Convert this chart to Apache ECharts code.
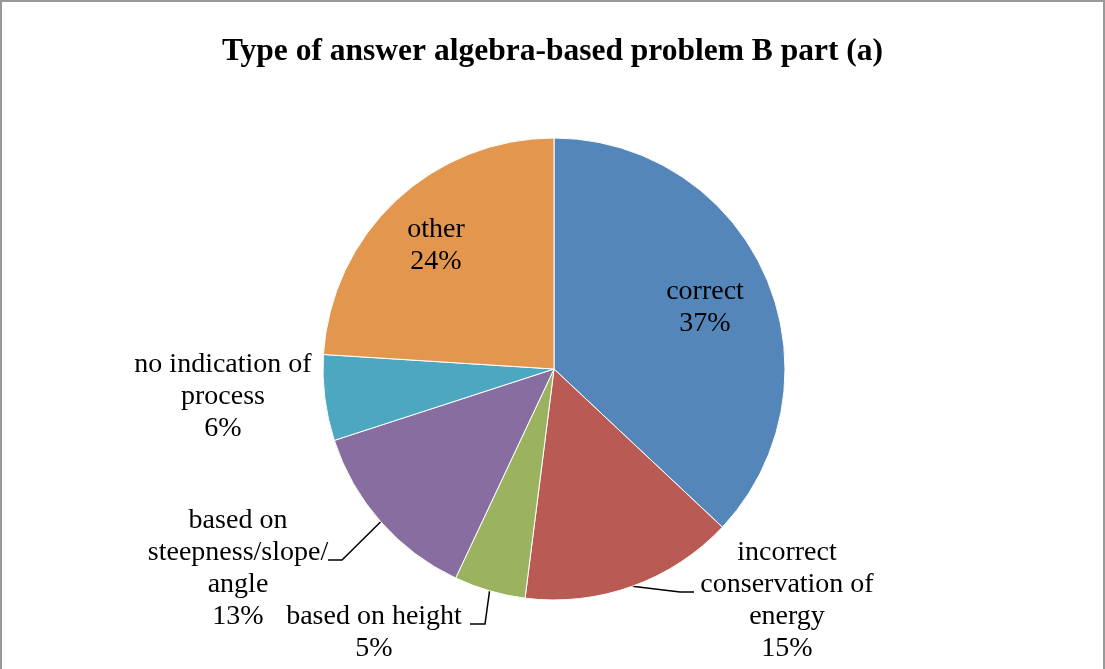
<!DOCTYPE html>
<html>
<head>
<meta charset="utf-8">
<script src="https://cdn.jsdelivr.net/npm/echarts@6/dist/echarts.min.js"></script>
<style>
html,body{margin:0;padding:0;background:#fff;}
#c{position:absolute;left:0;top:0;width:1105px;height:669px;box-sizing:border-box;border-left:2px solid #999;border-top:2px solid #999;border-right:2px solid #999;}
</style>
</head>
<body>
<div id="c"></div>
<script>
const titleText = 'Type of answer algebra-based problem B part (a)';
const categories = ['correct', 'incorrect\nconservation of\nenergy', 'based on height', 'based on\nsteepness/slope/\nangle', 'no indication of\nprocess', 'other'];
const values = [37, 15, 5, 13, 6, 24];
const colors = ['#5586B9', '#B95B54', '#9BB35E', '#876DA0', '#4EA7C0', '#E3974E'];
const insideLabel = [true, false, false, false, false, true];
const showLeader = [false, true, true, true, false, false];
// label block centres (px)
const labelPos = [[703, 306], [785, 599], [372, 631], [236, 567], [221, 395], [434, 244]];
// leader-line bend and end points (px)
const leaderPts = [null, [[678, 590], [692, 590]], [[483, 622], [468, 622]], [[340, 558], [326, 558]], null, null];

const chart = echarts.init(document.getElementById('c'), null, {renderer: 'canvas'});
const data = categories.map((name, i) => ({
  name: name,
  value: values[i],
  itemStyle: {color: colors[i]},
  label: {position: insideLabel[i] ? 'inside' : 'outside'},
  labelLine: {show: showLeader[i]}
}));

chart.setOption({
  animation: false,
  title: {
    text: titleText,
    left: 'center',
    top: 29,
    textStyle: {fontFamily: 'Liberation Serif', fontWeight: 'bold', fontSize: 31.5, color: '#000'}
  },
  series: [{
    type: 'pie',
    center: [552, 367],
    radius: 231,
    startAngle: 90,
    clockwise: true,
    data: data,
    itemStyle: {borderColor: '#fff', borderWidth: 1},
    label: {
      formatter: p => p.name + '\n' + p.percent.toFixed(0) + '%',
      fontFamily: 'Liberation Serif',
      fontSize: 28,
      lineHeight: 32,
      color: '#000',
      align: 'center'
    },
    labelLine: {lineStyle: {color: '#000', width: 1.5}, length: 20, length2: 20},
    labelLayout: function (params) {
      const i = params.dataIndex;
      const p = labelPos[i];
      const res = {x: p[0], y: p[1], align: 'center', verticalAlign: 'middle'};
      if (leaderPts[i] && params.labelLinePoints) {
        res.labelLinePoints = [params.labelLinePoints[0]].concat(leaderPts[i]);
      }
      return res;
    },
    emphasis: {disabled: true}
  }]
});
</script>
</body>
</html>
